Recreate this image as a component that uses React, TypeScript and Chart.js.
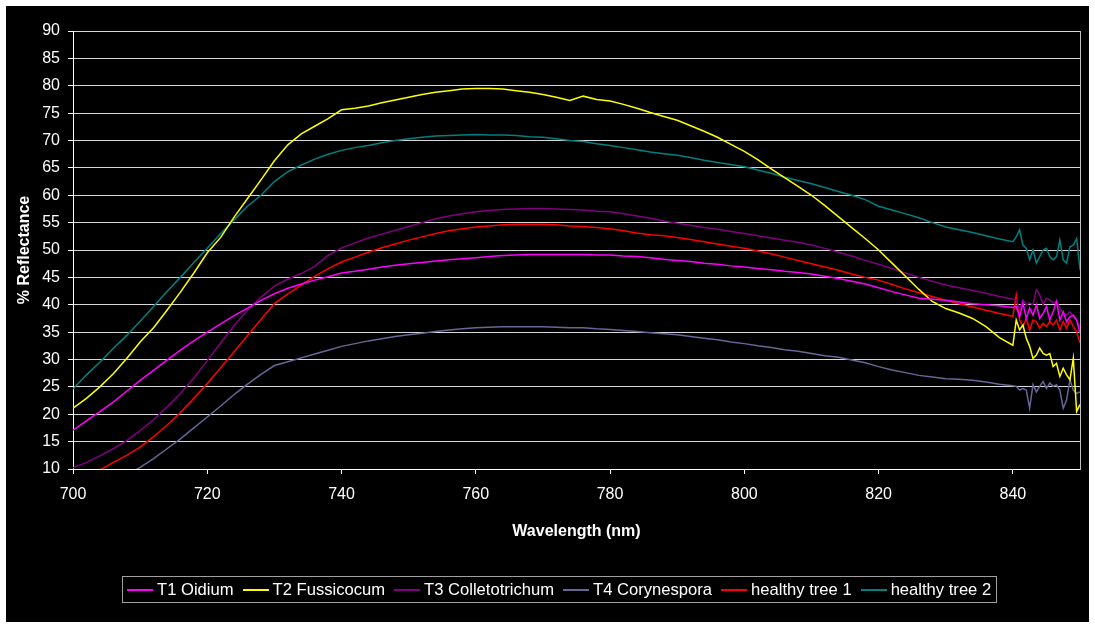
import React, { useEffect, useRef } from "react";
import { Chart, registerables } from "chart.js";
Chart.register(...registerables);

const wavelengths = [
  700, 702, 704, 706, 708, 710, 712, 714, 716, 718,
  720, 722, 724, 726, 728, 730, 732, 734, 736, 738,
  740, 742, 744, 746, 748, 750, 752, 754, 756, 758,
  760, 762, 764, 766, 768, 770, 772, 774, 776, 778,
  780, 782, 784, 786, 788, 790, 792, 794, 796, 798,
  800, 802, 804, 806, 808, 810, 812, 814, 816, 818,
  820, 822, 824, 826, 828, 830, 832, 834, 836, 838,
  840, 840.5, 841, 841.5, 842, 842.5, 843, 843.5, 844, 844.5,
  845, 845.5, 846, 846.5, 847, 847.5, 848, 848.5, 849, 849.5, 850,
];

const t1Oidium = [
  17.1, 18.8, 20.5, 22.2, 24.2, 26.2, 28.0, 29.9, 31.7, 33.4,
  35.0, 36.5, 38.0, 39.4, 40.8, 42.0, 43.0, 43.8, 44.5, 45.1,
  45.8, 46.1, 46.5, 46.9, 47.2, 47.5, 47.7, 48.0, 48.2, 48.4,
  48.6, 48.8, 49.0, 49.1, 49.2, 49.2, 49.2, 49.2, 49.2, 49.1,
  49.1, 48.9, 48.8, 48.6, 48.3, 48.1, 47.9, 47.6, 47.4, 47.1,
  46.9, 46.6, 46.4, 46.1, 45.9, 45.6, 45.2, 44.8, 44.3, 43.8,
  43.1, 42.4, 41.8, 41.2, 41.0, 40.8, 40.5, 40.2, 40.0, 39.8,
  39.5, 39.7, 37.8, 40.3, 37.5, 39.4, 38.1, 40.0, 37.5, 38.4,
  39.7, 37.2, 38.7, 40.6, 37.2, 38.7, 36.9, 37.8, 38.1, 37.2, 34.8,
];

const t2Fussicocum = [
  21.1, 22.9, 25.0, 27.4, 30.2, 33.2, 35.8, 39.0, 42.3, 45.8,
  49.5, 52.3, 56.0, 59.4, 62.8, 66.3, 69.2, 71.2, 72.6, 74.0,
  75.6, 75.9, 76.3, 76.9, 77.4, 77.9, 78.4, 78.8, 79.1, 79.4,
  79.5, 79.5, 79.4, 79.1, 78.8, 78.4, 77.9, 77.3, 78.1, 77.5,
  77.2, 76.6, 75.9, 75.1, 74.4, 73.7, 72.7, 71.7, 70.6, 69.3,
  68.0, 66.5, 64.8, 63.2, 61.6, 60.0, 58.1, 56.1, 54.1, 52.1,
  50.0, 47.6, 45.2, 42.8, 40.6, 39.3, 38.5, 37.5, 36.0, 34.0,
  32.6, 37.2, 35.4, 36.3, 33.9, 32.4, 30.2, 30.8, 32.1, 31.1,
  30.8, 31.1, 28.7, 29.3, 26.9, 28.4, 27.2, 26.3, 30.2, 20.5, 21.8,
];

const t3Colletotrichum = [
  10.2, 11.2, 12.4, 13.7, 15.2, 17.0, 19.0, 21.3, 23.8, 26.6,
  29.8, 33.0, 36.2, 39.0, 41.4, 43.4, 44.7, 45.7, 47.0, 49.0,
  50.4, 51.3, 52.2, 52.9, 53.6, 54.3, 55.0, 55.7, 56.2, 56.6,
  57.0, 57.2, 57.4, 57.5, 57.6, 57.6, 57.5, 57.4, 57.3, 57.1,
  57.0, 56.6, 56.2, 55.8, 55.3, 54.9, 54.5, 54.1, 53.8, 53.4,
  53.0, 52.6, 52.2, 51.8, 51.4, 50.9, 50.3, 49.6, 48.9, 48.1,
  47.4, 46.6, 45.8, 45.0, 44.3, 43.6, 43.1, 42.6, 42.1, 41.5,
  41.0, 40.9, 39.1, 40.9, 40.0, 40.3, 40.0, 42.7, 41.8, 40.0,
  41.2, 40.9, 40.3, 40.6, 39.4, 38.4, 38.1, 38.7, 37.8, 37.2, 36.0,
];

const t4Corynespora = [
  3.0, 4.4, 5.8, 7.3, 8.9, 10.3, 11.9, 13.7, 15.5, 17.5,
  19.5, 21.5, 23.6, 25.5, 27.3, 28.9, 29.6, 30.3, 31.0, 31.7,
  32.4, 32.9, 33.4, 33.8, 34.2, 34.5, 34.8, 35.1, 35.4, 35.6,
  35.8, 35.9, 36.0, 36.0, 36.0, 36.0, 35.9, 35.8, 35.8, 35.6,
  35.5, 35.3, 35.1, 34.9, 34.7, 34.5, 34.2, 33.9, 33.6, 33.2,
  32.9, 32.5, 32.2, 31.8, 31.5, 31.1, 30.7, 30.4, 29.9, 29.4,
  28.7, 28.1, 27.6, 27.1, 26.8, 26.5, 26.4, 26.2, 25.9, 25.5,
  25.2, 25.1, 24.4, 24.7, 24.4, 21.1, 25.4, 24.1, 25.1, 26.0,
  24.7, 25.7, 25.1, 25.4, 24.4, 21.1, 22.6, 26.3, 24.4, 23.8, 24.1,
];

const healthyTree1 = [
  7.2, 8.5, 9.8, 11.2, 12.5, 14.0, 15.9, 18.0, 20.3, 22.9,
  25.6, 28.5, 31.4, 34.4, 37.3, 40.2, 42.0, 43.6, 45.2, 46.6,
  47.8, 48.7, 49.6, 50.4, 51.1, 51.8, 52.4, 53.0, 53.5, 53.9,
  54.2, 54.4, 54.6, 54.7, 54.7, 54.7, 54.6, 54.4, 54.3, 54.1,
  53.9, 53.5, 53.1, 52.8, 52.6, 52.3, 51.9, 51.5, 51.1, 50.7,
  50.3, 49.8, 49.3, 48.7, 48.1, 47.5, 46.9, 46.3, 45.6, 45.0,
  44.5, 43.7, 42.9, 42.2, 41.5, 40.8, 40.2, 39.6, 39.0, 38.4,
  37.9, 41.8, 37.2, 36.0, 37.5, 35.4, 37.2, 36.9, 35.7, 36.6,
  36.0, 36.9, 36.3, 37.2, 35.4, 36.9, 35.7, 37.2, 36.0, 35.1, 33.0,
];

const healthyTree2 = [
  24.6, 27.2, 29.5, 32.0, 34.4, 37.0, 39.7, 42.4, 45.0, 47.7,
  50.3, 53.0, 55.5, 58.0, 60.0, 62.5, 64.3, 65.5, 66.6, 67.5,
  68.2, 68.7, 69.1, 69.6, 70.0, 70.3, 70.6, 70.8, 70.9, 71.0,
  71.1, 71.0, 71.0, 70.9, 70.7, 70.6, 70.3, 70.0, 69.8, 69.4,
  69.1, 68.7, 68.3, 67.9, 67.6, 67.3, 66.9, 66.4, 66.0, 65.6,
  65.2, 64.6, 64.0, 63.3, 62.7, 62.1, 61.4, 60.7, 60.0, 59.2,
  58.0, 57.3, 56.6, 55.9, 55.0, 54.2, 53.7, 53.2, 52.6, 52.0,
  51.5, 52.4, 53.7, 50.9, 50.3, 48.2, 50.0, 47.6, 48.8, 50.0,
  50.3, 48.8, 48.2, 48.8, 51.8, 48.2, 47.6, 50.6, 50.9, 52.1, 46.4,
];

const seriesNames = [
  "T1 Oidium",
  "T2 Fussicocum",
  "T3 Colletotrichum",
  "T4 Corynespora",
  "healthy tree 1",
  "healthy tree 2",
];
const seriesValues = [t1Oidium, t2Fussicocum, t3Colletotrichum, t4Corynespora, healthyTree1, healthyTree2];
const seriesColors = ["#FF00FF", "#FFFF00", "#800080", "#666699", "#FF0000", "#008080"];

const xTicks = [700, 720, 740, 760, 780, 800, 820, 840];
const yTicks = [10, 15, 20, 25, 30, 35, 40, 45, 50, 55, 60, 65, 70, 75, 80, 85, 90];

const xTitle = "Wavelength (nm)";
const yTitle = "% Reflectance";

const FONT = "'Liberation Sans', Arial, sans-serif";

export default function App() {
  const canvasRef = useRef<HTMLCanvasElement | null>(null);

  useEffect(() => {
    document.body.style.margin = "0";
    const canvas = canvasRef.current;
    if (!canvas) return;

    const frame = {
      id: "plotFrame",
      afterDatasetsDraw(chart: any) {
        const { ctx, chartArea } = chart;
        ctx.save();
        ctx.strokeStyle = "#c0c0c0";
        ctx.lineWidth = 1;
        const x = Math.round(chartArea.right) + 0.5;
        ctx.beginPath();
        ctx.moveTo(x, Math.round(chartArea.top));
        ctx.lineTo(x, Math.round(chartArea.bottom) + 1);
        ctx.stroke();
        ctx.restore();
      },
    };

    const chart = new Chart(canvas, {
      type: "line",
      data: {
        datasets: seriesNames.map((name, i) => ({
          label: name,
          data: wavelengths.map((w, j) => ({ x: w, y: seriesValues[i][j] })),
          borderColor: seriesColors[i],
          backgroundColor: seriesColors[i],
          borderWidth: 1.5,
          pointRadius: 0,
          tension: 0,
          fill: false,
        })),
      },
      options: {
        animation: false,
        responsive: false,
        devicePixelRatio: 1,
        layout: { padding: { left: 0, right: 9, top: 25, bottom: 63 } },
        plugins: {
          legend: { display: false },
          tooltip: { enabled: false },
        },
        scales: {
          x: {
            type: "linear",
            min: 700,
            max: 850,
            afterBuildTicks: (scale: any) => {
              scale.ticks = xTicks.map((v) => ({ value: v }));
            },
            afterFit: (scale: any) => {
              scale.height = 90;
            },
            grid: {
              drawOnChartArea: false,
              drawTicks: true,
              tickLength: 5,
              color: "#ffffff",
              tickColor: "#ffffff",
            },
            border: { color: "#ffffff", width: 1 },
            ticks: {
              color: "#ffffff",
              font: { family: FONT, size: 16 },
              padding: 11,
              maxRotation: 0,
              autoSkip: false,
            },
            title: {
              display: true,
              text: xTitle,
              color: "#ffffff",
              font: { family: FONT, size: 16, weight: "bold" },
              padding: { top: 0, bottom: 18 },
            },
          },
          y: {
            type: "linear",
            min: 10,
            max: 90,
            afterBuildTicks: (scale: any) => {
              scale.ticks = yTicks.map((v) => ({ value: v }));
            },
            afterFit: (scale: any) => {
              scale.width = 67;
            },
            grid: {
              color: "#d8d8d8",
              tickColor: "#ffffff",
              tickLength: 5,
            },
            border: { color: "#ffffff", width: 1 },
            ticks: {
              color: "#ffffff",
              font: { family: FONT, size: 16 },
              padding: 8,
              autoSkip: false,
            },
            title: {
              display: true,
              text: yTitle,
              color: "#ffffff",
              font: { family: FONT, size: 16, weight: "bold" },
              padding: { top: 9, bottom: 0 },
            },
          },
        },
      },
      plugins: [frame],
    } as any);

    return () => {
      chart.destroy();
    };
  }, []);

  return (
    <div style={{ position: "absolute", left: 0, top: 0, width: 1095, height: 628, background: "#ffffff" }}>
      <div style={{ position: "absolute", left: 6, top: 6, width: 1083, height: 616, background: "#000000" }}>
        <canvas ref={canvasRef} width={1083} height={616} style={{ display: "block", width: 1083, height: 616 }} />
        <div
          style={{
            position: "absolute",
            left: 116,
            top: 570,
            height: 27,
            boxSizing: "border-box",
            border: "1px solid #a0a0a0",
            display: "flex",
            alignItems: "center",
            paddingLeft: 4,
            paddingRight: 5,
            fontFamily: FONT,
            fontSize: 16.6,
            color: "#ffffff",
            whiteSpace: "nowrap",
          }}
        >
          {seriesNames.map((name, i) => (
            <div key={name} style={{ display: "flex", alignItems: "center", marginLeft: i === 0 ? 0 : 9 }}>
              <span
                style={{
                  display: "block",
                  width: 26,
                  height: 0,
                  borderTop: "2px solid " + seriesColors[i],
                  marginRight: 4,
                }}
              />
              <span>{name}</span>
            </div>
          ))}
        </div>
      </div>
    </div>
  );
}
